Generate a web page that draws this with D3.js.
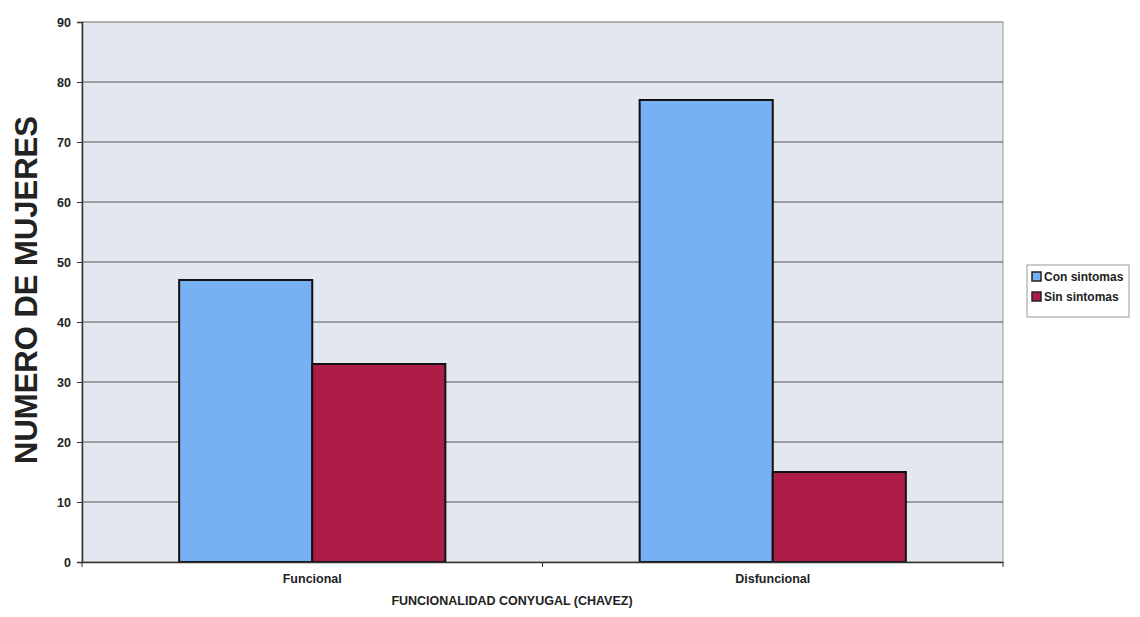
<!DOCTYPE html>
<html>
<head>
<meta charset="utf-8">
<script src="https://cdn.jsdelivr.net/npm/d3@7"></script>
<style>
  body { margin: 0; background: #fff; }
  svg { display: block; font-family: "Liberation Sans", Arial, sans-serif; }
</style>
</head>
<body>
<svg id="chart" width="1140" height="617"></svg>
<script>
// Women with / without symptoms by marital functionality
const categories = ["Funcional", "Disfuncional"];
const seriesNames = ["Con sintomas", "Sin sintomas"];
const conSintomas = [47, 77];
const sinSintomas = [33, 15];
const yTicks = [0, 10, 20, 30, 40, 50, 60, 70, 80, 90];

const colors = ["#78b0f4", "#ad1d48"];
const rows = categories.map((c, i) => ({ cat: c, values: [conSintomas[i], sinSintomas[i]] }));

const svg = d3.select("#chart");
const plot = { left: 82, right: 1003, top: 22, bottom: 562 };

const x = d3.scaleBand().domain(categories).range([plot.left, plot.right]).paddingInner(0).paddingOuter(0);
const x1 = d3.scaleBand().domain(seriesNames).range([0, x.bandwidth()]).paddingInner(0).paddingOuter(0.73);
const y = d3.scaleLinear().domain([0, 90]).range([plot.bottom, plot.top]);

// plot area
svg.append("rect")
  .attr("x", plot.left).attr("y", plot.top)
  .attr("width", plot.right - plot.left).attr("height", plot.bottom - plot.top)
  .attr("fill", "#e3e7ef").attr("stroke", "#9a9a9a").attr("stroke-width", 1);

// gridlines
svg.append("g").selectAll("line").data(yTicks.filter(d => d > 0)).join("line")
  .attr("x1", plot.left).attr("x2", plot.right)
  .attr("y1", d => y(d)).attr("y2", d => y(d))
  .attr("stroke", d => d === 90 ? "#9a9a9a" : "#555").attr("stroke-width", 1);

// bars
const groups = svg.append("g").selectAll("g").data(rows).join("g")
  .attr("transform", d => `translate(${x(d.cat)},0)`);
groups.selectAll("rect").data(d => d.values.map((v, i) => ({ name: seriesNames[i], v, i }))).join("rect")
  .attr("x", d => x1(d.name))
  .attr("y", d => y(d.v))
  .attr("width", x1.bandwidth())
  .attr("height", d => y(0) - y(d.v))
  .attr("fill", d => colors[d.i])
  .attr("stroke", "#111").attr("stroke-width", 2);

// y axis
const yAxis = svg.append("g").attr("transform", `translate(${plot.left},0)`)
  .call(d3.axisLeft(y).tickValues(yTicks).tickSize(5).tickPadding(6).tickFormat(d3.format("d")));
yAxis.select(".domain").attr("stroke", "#333").attr("stroke-width", 1.5);
yAxis.selectAll(".tick line").attr("stroke", "#333");
yAxis.selectAll("text").attr("font-size", 12.5).attr("font-weight", "bold").attr("fill", "#222");

// x axis
const xAxis = svg.append("g").attr("transform", `translate(0,${plot.bottom})`)
  .call(d3.axisBottom(x).tickSize(0).tickPadding(12));
xAxis.select(".domain").attr("stroke", "#333").attr("stroke-width", 1.5);
xAxis.selectAll("text").attr("font-size", 12.5).attr("font-weight", "bold").attr("fill", "#222");
// category separators
svg.append("g").selectAll("line").data([plot.left, x(categories[1]), plot.right]).join("line")
  .attr("x1", d => d).attr("x2", d => d)
  .attr("y1", plot.bottom).attr("y2", plot.bottom + 5)
  .attr("stroke", "#333");

// axis titles
svg.append("text")
  .attr("x", 512).attr("y", 605)
  .attr("text-anchor", "middle")
  .attr("font-size", 12.5).attr("font-weight", "bold").attr("fill", "#222")
  .text("FUNCIONALIDAD CONYUGAL (CHAVEZ)");

svg.append("text")
  .attr("transform", "translate(37,290) rotate(-90)")
  .attr("text-anchor", "middle")
  .attr("font-size", 31).attr("font-weight", "bold").attr("fill", "#222")
  .text("NUMERO DE MUJERES");

// legend
const legend = svg.append("g").attr("transform", "translate(1027,265)");
legend.append("rect").attr("width", 102).attr("height", 52)
  .attr("fill", "#fff").attr("stroke", "#999");
const items = legend.selectAll("g").data(seriesNames).join("g")
  .attr("transform", (d, i) => `translate(5,${7 + i * 20})`);
items.append("rect").attr("width", 9).attr("height", 9)
  .attr("fill", (d, i) => colors[i]).attr("stroke", "#222").attr("stroke-width", 1.5);
items.append("text").attr("x", 12).attr("y", 9)
  .attr("font-size", 12).attr("font-weight", "bold").attr("fill", "#222")
  .text(d => d);
</script>
</body>
</html>
